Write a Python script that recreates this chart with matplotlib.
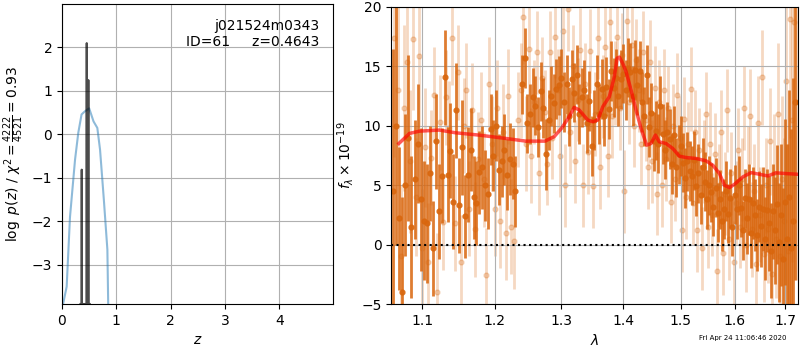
import numpy as np
import matplotlib
matplotlib.use("Agg")
import matplotlib.pyplot as plt
from matplotlib.ticker import NullLocator, FixedLocator, FixedFormatter

# ---- left panel: log p(z) ----
pz_z = [0.02, 0.086, 0.147, 0.24, 0.30, 0.36, 0.42, 0.50, 0.58, 0.65, 0.70, 0.77, 0.835, 0.85, 0.86]
pz_log = [-3.9, -3.5, -1.9, -0.58, 0.04, 0.46, 0.53, 0.60, 0.30, 0.15, -0.35, -1.5, -2.65, -3.9, -4.5]

chi_z = [0.34, 0.35, 0.355, 0.36, 0.363, 0.366, 0.37, 0.375, 0.44, 0.45, 0.455, 0.46, 0.47, 0.48, 0.485, 0.49, 0.50, 0.505, 0.51]
chi_log = [-3.9, -3.9, -3.9, -3.9, -0.81, -3.9, -3.9, -3.9, -3.9, -3.9, 2.1, -3.9, -3.9, -3.9, 1.25, -3.9, -3.9, -3.9, -3.9]

# ---- right panel: spectrum ----
wave_a = [1.062, 1.066, 1.070, 1.074, 1.078, 1.082, 1.086, 1.090, 1.094, 1.098,
          1.102, 1.106, 1.110, 1.114, 1.118, 1.122, 1.126, 1.130, 1.134, 1.138,
          1.142, 1.146, 1.150, 1.154, 1.158, 1.162, 1.166, 1.170, 1.174, 1.178,
          1.182, 1.186, 1.190, 1.194, 1.198, 1.202, 1.206, 1.210, 1.214, 1.218,
          1.222, 1.226, 1.230,
          1.240, 1.244, 1.248, 1.252, 1.256, 1.260, 1.264, 1.268, 1.272, 1.276,
          1.280, 1.284, 1.288, 1.292, 1.296, 1.300, 1.304, 1.308, 1.312, 1.316,
          1.320, 1.324, 1.328, 1.332, 1.336, 1.340, 1.344, 1.348, 1.352, 1.356,
          1.360, 1.364, 1.368, 1.372, 1.376, 1.380, 1.384, 1.388, 1.392, 1.396,
          1.400, 1.404, 1.408, 1.412, 1.416, 1.420, 1.424, 1.428, 1.432, 1.436,
          1.440, 1.444, 1.448, 1.452, 1.456, 1.460, 1.464, 1.468, 1.472, 1.476,
          1.480, 1.484, 1.488, 1.492, 1.496, 1.500, 1.504, 1.508, 1.512, 1.516,
          1.520, 1.524, 1.528, 1.532, 1.536, 1.540, 1.544, 1.548, 1.552, 1.556,
          1.560, 1.564, 1.568, 1.572, 1.576, 1.580, 1.584, 1.588, 1.592, 1.596,
          1.600, 1.604, 1.608, 1.612, 1.616, 1.620, 1.624, 1.628, 1.632, 1.636,
          1.640, 1.644, 1.648, 1.652, 1.656, 1.660, 1.664, 1.668, 1.672, 1.676,
          1.680, 1.684, 1.688, 1.692, 1.696, 1.700, 1.704, 1.708, 1.712, 1.716, 1.720]
flux_a = [4.5, 10.0, 2.2, -4.0, 5.0, 9.0, 1.5, 5.5, 8.5, 3.8,
          2.0, 1.8, 6.0, -0.3, 8.7, 2.8, 5.8, 14.1, 5.9, 7.9,
          3.6, 11.3, 3.3, 8.2, 2.4, 5.9, 8.0, 4.0, 3.5, 6.1,
          6.5, 5.0, 4.3, 9.7, 7.5, 10.0, 6.3, 7.0, 8.0, 5.9,
          7.2, 6.8, 4.5,
          13.5, 15.7, 10.2, 11.0, 12.4, 11.7, 9.9, 12.9, 11.5, 7.6,
          10.5, 12.5, 11.9, 13.1, 13.4, 14.0, 12.0, 13.5, 10.8, 13.9,
          12.8, 14.3, 11.0, 12.4, 13.0, 10.2, 12.1, 8.3, 10.5, 13.5,
          11.0, 13.1, 10.8, 13.3, 11.4, 14.6, 13.2, 14.0, 12.5, 13.9,
          14.4, 13.0, 14.9, 14.5, 12.5, 14.7, 13.4, 14.6, 12.0, 10.8,
          14.3, 9.9, 11.1, 8.7, 9.6, 8.5, 11.7, 9.3, 8.0, 9.5,
          8.9, 6.8, 9.2, 6.5, 7.6, 8.3, 6.9, 5.6, 7.0, 6.2,
          5.8, 7.1, 4.9, 6.0, 4.2, 6.5, 5.3, 3.8, 5.0, 4.4,
          3.2, 4.8, 2.7, 3.8, 2.0, 3.0, 4.5, 2.6, 3.9, 1.5,
          4.2, 3.0, 5.0, 3.1, 1.2, 3.9, 2.2, 3.8, 1.0, 3.5,
          2.5, 0.8, 3.2, 1.6, 3.0, 0.5, 2.9, 1.8, -0.5, 2.8,
          1.2, 3.4, 0.2, 2.5, -1.2, 3.6, 0.5, 4.0, -0.3, 2.0, 12.0]
err_a = [12, 10, 6, 8, 6, 7, 6, 5, 5, 6,
         5, 5, 4, 4, 4, 4, 4, 4, 4, 4,
         4, 4, 4, 4, 3.5, 4, 3.5, 3.5, 3.5, 3.5,
         3.5, 3, 3, 3, 3, 3, 3, 3, 3, 3,
         3, 3, 3,
         2.5, 2.5, 2.5, 2.5, 2.5, 2.5, 2.5, 2.5, 2.5, 3,
         2.5, 2.5, 2.5, 2.5, 2.5, 2.5, 2.5, 2.5, 2.5, 2.5,
         2.5, 2.5, 2.5, 2.5, 2.5, 2.5, 2.5, 2.5, 2.5, 2.5,
         2.5, 2.5, 2.5, 2.5, 2.5, 2.5, 2.5, 2.5, 2.5, 2.5,
         2.5, 2.5, 2.5, 2.5, 2.5, 2.5, 2.5, 2.5, 2.5, 2.5,
         2.5, 2.5, 2.5, 2.5, 2.5, 2.5, 2.5, 2.5, 2.5, 2.5,
         2.5, 2.5, 2.5, 2.5, 2.5, 2.5, 2.5, 2.5, 2.5, 2.5,
         2.5, 2.5, 2.5, 2.5, 2.5, 2.5, 2.5, 2.5, 2.5, 2.5,
         2.5, 2.5, 2.5, 2.5, 2.5, 2.5, 2.5, 2.5, 2.5, 2.5,
         2.5, 2.5, 2.5, 2.5, 2.5, 2.5, 3, 3, 3, 3,
         3, 3, 3, 3.5, 3.5, 3.5, 3.5, 4, 4, 4,
         4.5, 5, 5, 6, 6, 7, 8, 9, 10, 12, 15]

wave_b = [1.064, 1.068, 1.072, 1.076, 1.080, 1.084, 1.088, 1.092, 1.096, 1.100,
          1.104, 1.108, 1.112, 1.116, 1.120, 1.124, 1.128, 1.132, 1.136, 1.140,
          1.144, 1.148, 1.152, 1.156, 1.160, 1.164, 1.168, 1.172, 1.176, 1.180,
          1.184, 1.188, 1.192, 1.196, 1.200, 1.204, 1.208, 1.212, 1.216, 1.220,
          1.224, 1.228, 1.234, 1.238, 1.242, 1.246, 1.250, 1.254, 1.258, 1.262,
          1.266, 1.270, 1.274, 1.278, 1.282, 1.286, 1.290, 1.294, 1.298, 1.302,
          1.306, 1.310, 1.314, 1.318, 1.322, 1.326, 1.330, 1.334, 1.338, 1.342,
          1.346, 1.350, 1.354, 1.358, 1.362, 1.366, 1.370, 1.374, 1.378, 1.382,
          1.386, 1.390, 1.394, 1.398, 1.402, 1.406, 1.410, 1.414, 1.418, 1.422,
          1.426, 1.430, 1.434, 1.438, 1.442, 1.446, 1.450, 1.454, 1.458, 1.462,
          1.466, 1.470, 1.474, 1.478, 1.482, 1.486, 1.490, 1.494, 1.498, 1.502,
          1.506, 1.510, 1.514, 1.518, 1.522, 1.526, 1.530, 1.534, 1.538, 1.542,
          1.546, 1.550, 1.554, 1.558, 1.562, 1.566, 1.570, 1.574, 1.578, 1.582,
          1.586, 1.590, 1.594, 1.598, 1.602, 1.606, 1.610, 1.614, 1.618, 1.622,
          1.626, 1.630, 1.634, 1.638, 1.642, 1.646, 1.650, 1.654, 1.658, 1.662,
          1.666, 1.670, 1.674, 1.678, 1.682, 1.686, 1.690, 1.694, 1.698, 1.702,
          1.706, 1.710, 1.714, 1.718, 1.722]
flux_b = [17.4, 13.0, -1.0, 11.5, 15.4, 7.0, 17.3, 4.0, 15.9, -0.3,
          8.2, -1.5, 7.3, 12.6, -4.0, 10.3, 1.9, 12.4, 9.8, 17.4,
          1.8, 14.5, -1.5, 10.0, 13.0, 3.0, 11.3, 1.3, 7.2, 10.5,
          5.5, -2.6, 13.5, 8.5, 3.0, 11.5, 2.0, 9.5, 1.0, 12.5,
          1.5, 0.3, 10.5, 13.0, 19.2, 8.5, 16.5, 7.5, 12.0, 16.2,
          6.0, 14.0, 11.2, 6.8, 16.2, 9.0, 17.5, 13.0, 7.5, 18.0,
          5.0, 19.8, 9.5, 15.0, 7.0, 12.2, 16.4, 5.0, 13.5, 7.8,
          16.3, 4.9, 11.0, 17.4, 6.5, 12.5, 16.6, 7.5, 18.7, 10.8,
          13.6, 17.5, 11.5, 16.0, 4.5, 18.8, 12.0, 16.8, 10.0, 15.5,
          13.0, 8.5, 16.2, 10.5, 6.5, 15.4, 7.0, 13.2, 4.3, 12.0,
          5.0, 13.0, 7.2, 11.5, 3.6, 10.0, 5.5, 12.6, 9.0, 1.2,
          10.6, 4.0, 8.5, 13.1, 3.5, 9.5, 1.2, 8.0, -0.3, 7.0,
          11.0, 1.5, 8.5, 2.5, 7.6, -2.2, 5.0, 9.5, -0.7, 4.3,
          11.3, 0.5, 6.0, -1.5, 3.5, 8.0, 1.5, 5.5, 11.5, 0.0,
          6.0, 10.8, 1.3, 4.5, -1.6, 10.2, 2.5, 14.1, -0.8, 5.0,
          1.3, 8.7, -2.5, 6.0, 0.5, 11.0, -1.0, 5.5, 2.0, 13.8,
          -0.5, 19.0, 10.5, 18.7, 12.0]
err_b = [10, 8, 6, 7, 6, 6, 6, 5, 6, 5,
         5, 5, 4, 4, 5, 4, 4, 4, 4, 4,
         4, 4, 4, 4, 4, 4, 4, 4, 4, 4,
         4, 4, 4, 4, 4, 4, 4, 4, 4, 4,
         4, 4, 4, 4, 4, 4, 4, 4, 3.5, 3.5,
         3.5, 3.5, 3.5, 3.5, 3.5, 3.5, 3.5, 3.5, 3.5, 3.5,
         3.5, 3.5, 3.5, 3.5, 3.5, 3.5, 3.5, 3.5, 3.5, 3.5,
         3.5, 3.5, 3.5, 3.5, 3.5, 3.5, 3.5, 3.5, 3.5, 3.5,
         3.5, 3.5, 3.5, 3.5, 3.5, 3.5, 3.5, 3.5, 3.5, 3.5,
         3.5, 3.5, 3.5, 3.5, 3.5, 3.5, 3.5, 3.5, 3.5, 3.5,
         3.5, 3.5, 3.5, 3.5, 3.5, 3.5, 3.5, 3.5, 3.5, 3.5,
         3.5, 3.5, 3.5, 3.5, 3.5, 3.5, 3.5, 3.5, 3.5, 3.5,
         3.5, 3.5, 3.5, 3.5, 3.5, 3.5, 3.5, 3.5, 3.5, 3.5,
         3.5, 3.5, 3.5, 3.5, 3.5, 3.5, 3.5, 3.5, 3.5, 4,
         4, 4, 4, 4, 4, 4, 4, 4, 4, 4,
         4.5, 4.5, 5, 5, 5, 6, 6, 7, 7, 8,
         9, 10, 12, 14, 15]

model_wave = [1.0697, 1.0834, 1.0965, 1.1229, 1.1452, 1.1773, 1.2155, 1.2456, 1.2747, 1.2886,
              1.3000, 1.3123, 1.3200, 1.3280, 1.3416, 1.3497, 1.3580, 1.3661, 1.3769, 1.3852,
              1.3897, 1.3936, 1.3990, 1.4047, 1.4131, 1.4216, 1.4302, 1.4399, 1.4475, 1.4551,
              1.4619, 1.4738, 1.4857, 1.4977, 1.5097, 1.5280, 1.5464, 1.5588, 1.5713, 1.5808,
              1.5903, 1.5999, 1.6160, 1.6322, 1.6486, 1.6650, 1.6817, 1.7020, 1.7260]
model_flux = [8.51, 9.36, 9.55, 9.64, 9.41, 9.22, 8.94, 8.71, 8.71, 9.08,
              9.78, 10.77, 11.55, 11.33, 10.49, 10.34, 10.49, 11.61, 12.45, 14.14,
              15.69, 15.78, 15.27, 14.57, 13.02, 11.33, 9.78, 8.37, 8.51, 9.22,
              8.65, 8.51, 8.09, 7.44, 7.33, 7.25, 7.05, 6.68, 5.98, 4.99,
              4.80, 5.08, 5.70, 6.06, 5.92, 5.78, 6.04, 5.98, 5.92]

wave_ticks = [1.1, 1.2, 1.3, 1.4, 1.5, 1.6, 1.7]

orange = (0.85, 0.40, 0.05)

fig = plt.figure(figsize=(8, 3.5), dpi=100)

# left panel
ax1 = fig.add_axes([0.0775, 0.1314, 0.339, 0.8572])
ax1.plot(pz_z, pz_log, color='tab:blue', alpha=0.5, lw=1.5)
ax1.plot(chi_z, chi_log, color='k', alpha=0.7, lw=1.5)
ax1.set_xlim(0, 4.99)
ax1.set_ylim(-3.9, 3.0)
ax1.set_yticks([-3, -2, -1, 0, 1, 2])
ax1.set_xticks([0, 1, 2, 3, 4])
ax1.grid(True)
ax1.set_xlabel('$z$')
ax1.set_ylabel(r'$\log\ p(z)$' + ' / ' + r'$\chi^2=\frac{4222}{4521}=0.93$')
ax1.text(0.95, 0.95, 'j021524m0343\nID=61     z=0.4643', transform=ax1.transAxes,
         ha='right', va='top', fontsize=10, multialignment='right')

# right panel
ax2 = fig.add_axes([0.489, 0.1314, 0.5085, 0.8486])
ax2.errorbar(wave_b, flux_b, yerr=err_b, fmt='o', color=orange, alpha=0.25,
             markersize=3.5, elinewidth=2, zorder=1)
ax2.errorbar(wave_a, flux_a, yerr=err_a, fmt='o', color=orange, alpha=0.85,
             markersize=3.5, elinewidth=2, zorder=2)
ax2.plot(model_wave, model_flux, color='r', alpha=0.65, lw=2.5, zorder=3)
ax2.plot([1.0599, 1.7265], [0, 0], color='k', linestyle=':', lw=1.5, zorder=4)
ax2.set_xscale('log')
ax2.set_xlim(1.0599, 1.7265)
ax2.set_ylim(-5, 20)
ax2.xaxis.set_minor_locator(NullLocator())
ax2.xaxis.set_major_locator(FixedLocator(wave_ticks))
ax2.xaxis.set_major_formatter(FixedFormatter([str(w) for w in wave_ticks]))
ax2.set_yticks([-5, 0, 5, 10, 15, 20])
ax2.grid(True)
ax2.set_xlabel(r'$\lambda$')
ax2.set_ylabel(r'$f_\lambda\times10^{-19}$')

fig.text(0.983, 0.025, 'Fri Apr 24 11:06:46 2020', ha='right', va='bottom', fontsize=5)

fig.savefig('out.png', dpi=100)
